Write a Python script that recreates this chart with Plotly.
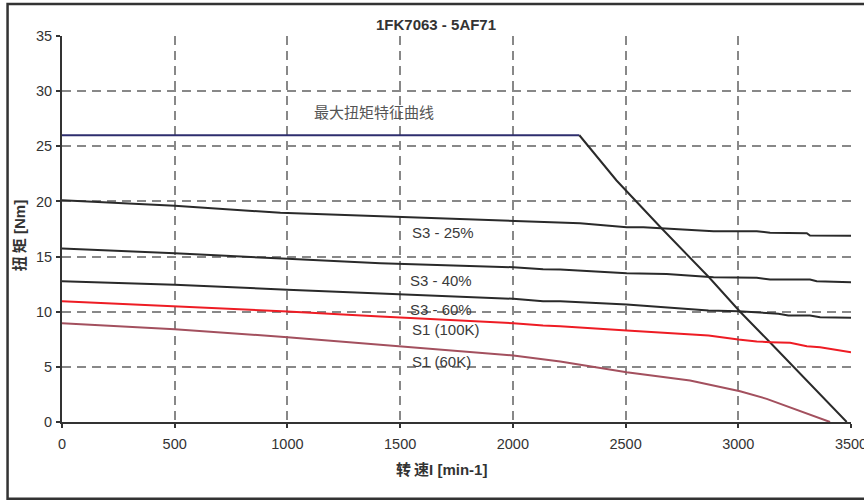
import plotly.graph_objects as go

# Speed [min-1] and torque [Nm] curves for motor 1FK7063 - 5AF71
max_flat_speed = [0, 2295]
max_flat_torque = [26.0, 26.0]
max_fall_speed = [2295, 2460, 2653, 2871, 3008, 3137, 3481]
max_fall_torque = [26.0, 21.9, 17.7, 13.1, 10.0, 7.3, 0.0]

s3_25_speed = [0, 500, 969, 1508, 2002, 2210, 2298, 2505, 2579, 2890, 3082, 3141, 3304, 3318, 3500]
s3_25_torque = [20.1, 19.6, 18.97, 18.57, 18.2, 18.02, 18.02, 17.66, 17.66, 17.3, 17.3, 17.15, 17.12, 16.91, 16.88]

s3_40_speed = [0, 500, 1000, 1412, 2002, 2134, 2210, 2505, 2682, 2890, 3082, 3141, 3318, 3348, 3500]
s3_40_torque = [15.73, 15.3, 14.8, 14.4, 14.03, 13.85, 13.83, 13.49, 13.43, 13.13, 13.07, 12.92, 12.92, 12.77, 12.68]

s3_60_speed = [0, 500, 1000, 1412, 2002, 2134, 2210, 2505, 2651, 2868, 3000, 3090, 3178, 3222, 3318, 3363, 3500]
s3_60_torque = [12.77, 12.44, 12.0, 11.68, 11.17, 10.95, 10.95, 10.65, 10.41, 10.11, 10.05, 9.96, 9.81, 9.66, 9.66, 9.5, 9.45]

s1_100_speed = [0, 500, 1000, 1412, 2002, 2134, 2210, 2505, 2868, 3000, 3082, 3141, 3230, 3304, 3363, 3500]
s1_100_torque = [10.95, 10.5, 10.02, 9.56, 8.96, 8.75, 8.69, 8.3, 7.84, 7.48, 7.3, 7.24, 7.18, 6.87, 6.78, 6.33]

s1_60_speed = [0, 500, 1000, 1412, 2002, 2210, 2505, 2786, 3008, 3126, 3244, 3407]
s1_60_torque = [8.96, 8.42, 7.69, 7.03, 6.03, 5.48, 4.52, 3.76, 2.79, 2.1, 1.2, 0.0]

curve_labels = ["最大扭矩特征曲线", "S3 - 25%", "S3 - 40%", "S3 - 60%", "S1 (100K)", "S1 (60K)"]
label_x = [1110, 1545, 1536, 1536, 1545, 1545]
label_y = [28.15, 17.21, 12.83, 10.2, 8.39, 5.51]

x_ticks = [0, 500, 1000, 1500, 2000, 2500, 3000, 3500]
y_ticks = [0, 5, 10, 15, 20, 25, 30, 35]

FONT = "Arial, 'Liberation Sans', 'Noto Sans CJK SC', sans-serif"
CJK = "'Noto Sans CJK SC', sans-serif"

fig = go.Figure()


def add_curve(xs, ys, color):
    fig.add_trace(go.Scatter(x=xs, y=ys, mode="lines",
                             line=dict(color=color, width=2),
                             showlegend=False, hoverinfo="x+y"))


add_curve(max_flat_speed, max_flat_torque, "#2e2e6e")
add_curve(max_fall_speed, max_fall_torque, "#2a2a2a")
add_curve(s3_25_speed, s3_25_torque, "#2a2a2a")
add_curve(s3_40_speed, s3_40_torque, "#2a2a2a")
add_curve(s3_60_speed, s3_60_torque, "#2a2a2a")
add_curve(s1_100_speed, s1_100_torque, "#ee1c24")
add_curve(s1_60_speed, s1_60_torque, "#a3505e")

for i, (txt, lx, ly) in enumerate(zip(curve_labels, label_x, label_y)):
    fig.add_annotation(x=lx, y=ly, text=txt, showarrow=False,
                       xanchor="left", yanchor="middle",
                       font=dict(family=CJK if i == 0 else FONT,
                                 size=15, color="#555555" if i == 0 else "#3a3a3a"))

axis_style = dict(showgrid=True, gridcolor="#888888", gridwidth=1.5, griddash="9px,6px",
                  zeroline=False, showline=True, linecolor="#333333", linewidth=2,
                  ticks="outside", ticklen=4, tickcolor="#333333", tickwidth=2,
                  automargin=False, ticklabeloverflow="allow",
                  tickfont=dict(family=FONT, size=14.5, color="#333333"))

fig.update_xaxes(range=[0, 3500], tickvals=x_ticks, ticklabelstandoff=4, **axis_style)
fig.update_yaxes(range=[0, 35], tickvals=y_ticks, ticklabelstandoff=1, **axis_style)


def cjk(s):
    return f"<span style='font-family:{CJK};font-size:17px'>{s}</span>"


# axis titles and chart title, centred on the chart frame
fig.add_annotation(xref="paper", yref="paper", x=0.4816, y=-0.124,
                   xanchor="center", yanchor="middle",
                   text=f"<b>{cjk('转')}\u2009{cjk('速')}I [min-1]</b>", showarrow=False,
                   font=dict(family=FONT, size=15, color="#333333"))
fig.add_annotation(xref="paper", yref="paper", x=-0.0545, y=0.484,
                   xanchor="center", yanchor="middle",
                   text=f"<b>{cjk('扭')}\u2009{cjk('矩')} [Nm]</b>", showarrow=False,
                   textangle=-90,
                   font=dict(family=FONT, size=15, color="#333333"))
fig.add_annotation(xref="paper", yref="paper", x=0.474, y=1.031,
                   xanchor="center", yanchor="middle",
                   text="<b>1FK7063 - 5AF71</b>", showarrow=False,
                   font=dict(family=FONT, size=15, color="#333333"))

# outer frame around the chart area
fig.add_shape(type="rect", xref="paper", yref="paper",
              x0=-0.069, x1=1.028, y0=-0.1986, y1=1.0826,
              line=dict(color="#333333", width=2.5))

fig.update_layout(width=864, height=501,
                  margin=dict(l=62, r=13, t=36, b=79),
                  plot_bgcolor="white", paper_bgcolor="white",
                  font=dict(family=FONT))

fig.write_html("out.html")
